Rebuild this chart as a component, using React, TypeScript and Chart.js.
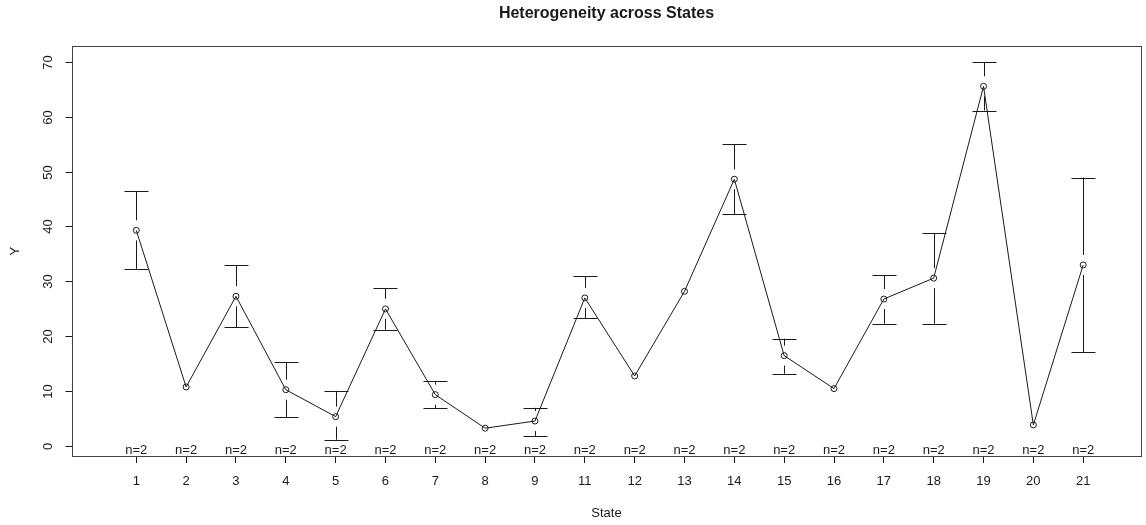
import React, { useEffect, useRef } from 'react';
import { Chart, registerables } from 'chart.js';

Chart.register(...registerables);

const states = ['1', '2', '3', '4', '5', '6', '7', '8', '9', '11', '12', '13', '14', '15', '16', '17', '18', '19', '20', '21'];
const means = [39.3, 10.8, 27.3, 10.3, 5.4, 25.0, 9.4, 3.3, 4.6, 27.0, 12.8, 28.2, 48.6, 16.5, 10.5, 26.8, 30.6, 65.5, 3.9, 33.0];
const upperCI = [46.4, 10.8, 33.0, 15.3, 10.1, 28.8, 11.9, 3.3, 7.0, 30.9, 12.8, 28.2, 55.0, 19.6, 10.5, 31.2, 38.8, 69.9, 3.9, 48.9];
const lowerCI = [32.3, 10.8, 21.7, 5.3, 1.2, 21.2, 6.9, 3.3, 1.9, 23.3, 12.8, 28.2, 42.2, 13.2, 10.5, 22.3, 22.3, 61.1, 3.9, 17.1];
const counts = [2, 2, 2, 2, 2, 2, 2, 2, 2, 2, 2, 2, 2, 2, 2, 2, 2, 2, 2, 2];
const yTickValues = [0, 10, 20, 30, 40, 50, 60, 70];

const FONT = '"Liberation Sans", Arial, Helvetica, sans-serif';
const INK = '#1a1a1a';

const rStylePlugin = {
  id: 'rStyle',
  afterDatasetsDraw(chart: any) {
    const { ctx, chartArea, scales } = chart;
    const xs = scales.x;
    const ys = scales.y;
    ctx.save();
    ctx.strokeStyle = INK;
    ctx.fillStyle = INK;
    ctx.lineWidth = 1;

    // box
    const l = Math.round(chartArea.left) + 0.5;
    const t = Math.round(chartArea.top) + 0.5;
    const r = Math.round(chartArea.right) + 0.5;
    const b = Math.round(chartArea.bottom) + 0.5;
    ctx.strokeStyle = '#444';
    ctx.strokeRect(l, t, r - l, b - t);

    // y ticks and rotated labels
    ctx.strokeStyle = INK;
    ctx.font = `13px ${FONT}`;
    ctx.textAlign = 'center';
    ctx.textBaseline = 'middle';
    yTickValues.forEach((v) => {
      const py = Math.round(ys.getPixelForValue(v)) + 0.5;
      ctx.beginPath();
      ctx.moveTo(l - 7, py);
      ctx.lineTo(l, py);
      ctx.stroke();
      ctx.save();
      ctx.translate(48, py);
      ctx.rotate(-Math.PI / 2);
      ctx.fillText(String(v), 0, 0);
      ctx.restore();
    });

    // error bars with gap around the mean
    const gap = 10;
    const half = 12;
    means.forEach((m, i) => {
      const px = Math.round(xs.getPixelForValue(i + 1)) + 0.5;
      const pm = ys.getPixelForValue(m);
      const pu = ys.getPixelForValue(upperCI[i]);
      const pl = ys.getPixelForValue(lowerCI[i]);
      if (pm - pu > gap) {
        ctx.beginPath();
        ctx.moveTo(px, pu);
        ctx.lineTo(px, pm - gap);
        ctx.moveTo(px - half, Math.round(pu) + 0.5);
        ctx.lineTo(px + half, Math.round(pu) + 0.5);
        ctx.stroke();
      }
      if (pl - pm > gap) {
        ctx.beginPath();
        ctx.moveTo(px, pl);
        ctx.lineTo(px, pm + gap);
        ctx.moveTo(px - half, Math.round(pl) + 0.5);
        ctx.lineTo(px + half, Math.round(pl) + 0.5);
        ctx.stroke();
      }
    });

    // n= labels
    ctx.font = `13px ${FONT}`;
    ctx.textAlign = 'center';
    ctx.textBaseline = 'middle';
    counts.forEach((n, i) => {
      const px = xs.getPixelForValue(i + 1);
      ctx.fillText(`n=${n}`, px, chartArea.bottom - 6);
    });
    ctx.restore();
  },
};

export default function App() {
  const canvasRef = useRef<HTMLCanvasElement | null>(null);

  useEffect(() => {
    if (!canvasRef.current) return;
    const chart = new Chart(canvasRef.current, {
      type: 'line',
      data: {
        datasets: [
          {
            data: means.map((m, i) => ({ x: i + 1, y: m })),
            borderColor: INK,
            borderWidth: 1,
            pointRadius: 3,
            pointBorderWidth: 1,
            pointBorderColor: INK,
            pointBackgroundColor: 'rgba(0,0,0,0)',
            tension: 0,
            fill: false,
          },
        ],
      },
      options: {
        responsive: false,
        animation: false,
        layout: { padding: { left: 0, right: 4, top: 0, bottom: 0 } },
        plugins: {
          legend: { display: false },
          tooltip: { enabled: false },
          title: {
            display: true,
            text: 'Heterogeneity across States',
            fullSize: false,
            color: INK,
            font: { family: FONT, size: 16, weight: 'bold' },
            padding: { top: 4, bottom: 23 },
          },
        },
        scales: {
          x: {
            type: 'linear',
            min: -0.29,
            max: 21.16,
            afterBuildTicks: (scale: any) => {
              scale.ticks = states.map((_, i) => ({ value: i + 1 }));
            },
            afterFit: (scale: any) => {
              scale.height = 69;
            },
            ticks: {
              autoSkip: false,
              maxRotation: 0,
              minRotation: 0,
              padding: 11,
              color: INK,
              font: { family: FONT, size: 13 },
              callback: (value: any) => states[Number(value) - 1] ?? '',
            },
            grid: {
              display: true,
              drawOnChartArea: false,
              drawTicks: true,
              tickLength: 7,
              color: INK,
            },
            border: { display: false },
            title: {
              display: true,
              text: 'State',
              color: INK,
              font: { family: FONT, size: 13 },
              padding: { top: 0, bottom: 4 },
            },
          },
          y: {
            type: 'linear',
            min: -1.76,
            max: 72.8,
            afterFit: (scale: any) => {
              scale.width = 72;
            },
            ticks: { display: false },
            grid: { display: false },
            border: { display: false },
            title: {
              display: true,
              text: 'Y',
              color: INK,
              font: { family: FONT, size: 13 },
              padding: { top: 8, bottom: 0 },
            },
          },
        },
      },
      plugins: [rStylePlugin],
    });
    return () => chart.destroy();
  }, []);

  return (
    <div style={{ position: 'absolute', left: 0, top: 0, width: 1146, height: 525, background: '#fff' }}>
      <canvas ref={canvasRef} width={1146} height={525} style={{ display: 'block' }} />
    </div>
  );
}
